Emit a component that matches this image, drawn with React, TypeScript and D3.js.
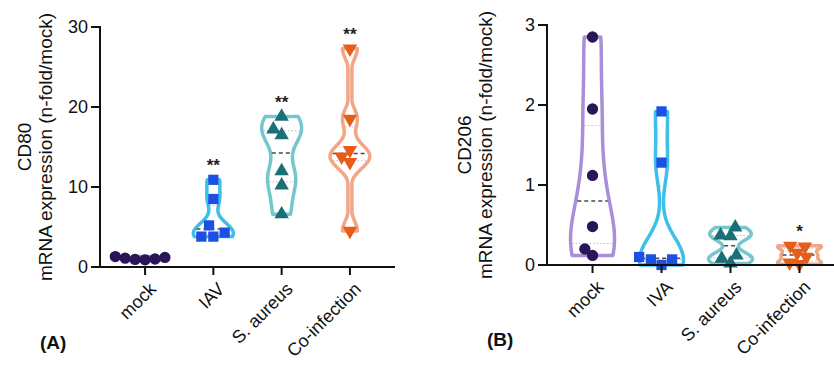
import React from "react";
import * as d3 from "d3";

// categories and readings (n-fold / mock)
const categoriesA = ["mock", "IAV", "S. aureus", "Co-infection"];
const categoriesB = ["mock", "IVA", "S. aureus", "Co-infection"];

const cd80Mock = [0.9, 1.3, 1.1, 1.0, 1.2, 0.95];
const cd80IAV = [10.9, 8.5, 5.2, 4.3, 3.8, 3.8];
const cd80SAureus = [18.8, 17.2, 16.5, 12.0, 10.2, 6.6];
const cd80CoInfection = [27.3, 18.5, 14.6, 13.8, 13.1, 4.5];

const cd206Mock = [2.85, 1.95, 1.12, 0.48, 0.2, 0.12];
const cd206IVA = [1.92, 1.28, 0.1, 0.07, 0.07, 0.0];
const cd206SAureus = [0.47, 0.37, 0.36, 0.12, 0.08, 0.02];
const cd206CoInfection = [0.24, 0.23, 0.15, 0.1, 0.03, 0.01];

const ticksA = [0, 10, 20, 30];
const ticksB = [0, 1, 2, 3];
const starsA = ["", "**", "**", "**"];
const starsB = ["", "", "", "*"];

const strokeColors = ["#a88fd8", "#3dbfea", "#74c7cd", "#f3a585"];
const pointColors = ["#2a1657", "#1c4fe3", "#1a6f78", "#e65d1a"];

const font = "'Liberation Sans', Arial, Helvetica, sans-serif";

function kdeWidths(values: number[], ys: number[]) {
  const n = values.length;
  const sorted = [...values].sort(d3.ascending);
  const sd = d3.deviation(sorted) || 1;
  const iqr = (d3.quantile(sorted, 0.75)! - d3.quantile(sorted, 0.25)!) / 1.34;
  const spread = iqr > 0 ? Math.min(sd, iqr) : sd;
  const bw = 0.9 * spread * Math.pow(n, -0.2) * 0.65;
  return ys.map(y => d3.mean(values, v => Math.exp(-0.5 * ((y - v) / bw) ** 2))!);
}

// spread points sideways so that they do not sit on each other
function swarm(values: number[], y: (v: number) => number, d: number) {
  const placed: { x: number; y: number }[] = [];
  const dx = new Array(values.length).fill(0);
  const order = d3.range(values.length).sort((a, b) => values[a] - values[b]);
  for (const i of order) {
    const yi = y(values[i]);
    const cands = [0];
    for (const p of placed) {
      const dy = Math.abs(p.y - yi);
      if (dy < d) {
        const s = Math.sqrt(d * d - dy * dy);
        cands.push(p.x - s, p.x + s);
      }
    }
    cands.sort((a, b) => Math.abs(a) - Math.abs(b) || a - b);
    const ok = cands.find(c => placed.every(p => (p.x - c) ** 2 + (p.y - yi) ** 2 >= d * d - 0.01)) ?? 0;
    dx[i] = ok;
    placed.push({ x: ok, y: yi });
  }
  return dx;
}

type PanelProps = {
  series: number[][];
  categories: string[];
  ticks: number[];
  stars: string[];
  axisX: number;
  axisEnd: number;
  y0: number;
  y1: number;
  title: string;
  titleX: number;
  tag: string;
  tagX: number;
  tagY: number;
  halfWidth: number;
};

function Panel(p: PanelProps) {
  const y = d3.scaleLinear().domain([p.ticks[0], p.ticks[p.ticks.length - 1]]).range([p.y0, p.y1]);
  const x = d3.scalePoint<string>().domain(p.categories).range([p.axisX, p.axisEnd]).padding(0.66);
  const symbols = [d3.symbolCircle, d3.symbolSquare, d3.symbolTriangle, d3.symbolTriangle];
  const sizes = [100, 105, 90, 90];

  return (
    <g fontFamily={font}>
      {p.series.map((vals, i) => {
        const cx = x(p.categories[i])!;
        const lo = d3.min(vals)!;
        const hi = d3.max(vals)!;
        const ys = d3.range(61).map(k => lo + ((hi - lo) * k) / 60);
        const dens = kdeWidths(vals, ys);
        const maxD = d3.max(dens)!;
        const w = d3.scaleLinear().domain([0, maxD]).range([0, p.halfWidth]);
        const pts = ys.map((v, k) => ({ v, w: Math.max(w(dens[k]), 2) }));
        const area = d3.area<{ v: number; w: number }>()
          .y(d => y(d.v))
          .x0(d => cx - d.w)
          .x1(d => cx + d.w)
          .curve(d3.curveBasis);
        const widthAt = (v: number) => {
          const k = Math.round(((v - lo) / (hi - lo || 1)) * 60);
          return pts[Math.max(0, Math.min(60, k))].w - 1.5;
        };
        const sorted = [...vals].sort(d3.ascending);
        const med = d3.quantile(sorted, 0.5)!;
        const q1 = d3.quantile(sorted, 0.25)!;
        const q3 = d3.quantile(sorted, 0.75)!;
        const offs = swarm(vals, y, i === 1 ? 12 : 10);
        const sym = d3.symbol(symbols[i], sizes[i]);
        return (
          <g key={i}>
            <path d={area(pts)!} fill="white" stroke={strokeColors[i]} strokeWidth={3.5} strokeLinejoin="round" />
            {[q1, q3].map((q, k) => (
              <line key={k} x1={cx - widthAt(q)} x2={cx + widthAt(q)} y1={y(q)} y2={y(q)}
                stroke="#b9b9c4" strokeWidth={1} strokeDasharray="1.5,2" />
            ))}
            <line x1={cx - widthAt(med)} x2={cx + widthAt(med)} y1={y(med)} y2={y(med)}
              stroke="#4a4a55" strokeWidth={1.5} strokeDasharray="4,3" />
            {vals.map((v, k) => (
              <path key={k} d={sym()!} fill={pointColors[i]}
                transform={`translate(${cx + offs[k]},${y(v)})${i === 3 ? " rotate(180)" : ""}`} />
            ))}
            {p.stars[i] && (
              <text x={cx} y={y(hi) - 9} textAnchor="middle" fontSize={17} fontWeight="bold" fill="#222">
                {p.stars[i]}
              </text>
            )}
          </g>
        );
      })}

      {/* y axis */}
      <line x1={p.axisX} x2={p.axisX} y1={p.y1 - 1} y2={p.y0 + 1} stroke="#111" strokeWidth={2} />
      {p.ticks.map(t => (
        <g key={t} transform={`translate(0,${y(t)})`}>
          <line x1={p.axisX - 9} x2={p.axisX} stroke="#111" strokeWidth={2} />
          <text x={p.axisX - 12} dy="0.36em" textAnchor="end" fontSize={18} fill="#111">{t}</text>
        </g>
      ))}

      {/* x axis */}
      <line x1={p.axisX - 1} x2={p.axisEnd} y1={p.y0} y2={p.y0} stroke="#111" strokeWidth={2} />
      {p.categories.map(c => (
        <g key={c}>
          <line x1={x(c)} x2={x(c)} y1={p.y0} y2={p.y0 + 8} stroke="#111" strokeWidth={2} />
          <text transform={`translate(${x(c)! + 3},${p.y0 + 14}) rotate(-45)`} dy="0.72em"
            textAnchor="end" fontSize={18} fill="#111">{c}</text>
        </g>
      ))}

      {/* y title */}
      <text transform={`translate(${p.titleX},${(p.y0 + p.y1) / 2}) rotate(-90)`} textAnchor="middle"
        fontSize={19} fill="#111">
        <tspan x={0} dy={-21}>{p.title}</tspan>
        <tspan x={0} dy={21}>mRNA expression (n-fold/mock)</tspan>
      </text>

      <text x={p.tagX} y={p.tagY} fontSize={19} fontWeight="bold" fill="#111">{p.tag}</text>
    </g>
  );
}

export default function App() {
  return (
    <div style={{ position: "absolute", left: 0, top: 0 }}>
      <svg width={834} height={365} style={{ display: "block", background: "white" }}>
        <Panel
          series={[cd80Mock, cd80IAV, cd80SAureus, cd80CoInfection]}
          categories={categoriesA}
          ticks={ticksA}
          stars={starsA}
          axisX={100}
          axisEnd={395}
          y0={267}
          y1={27}
          title="CD80"
          titleX={52}
          tag="(A)"
          tagX={40}
          tagY={349}
          halfWidth={20}
        />
        <Panel
          series={[cd206Mock, cd206IVA, cd206SAureus, cd206CoInfection]}
          categories={categoriesB}
          ticks={ticksB}
          stars={starsB}
          axisX={547}
          axisEnd={845}
          y0={265}
          y1={25}
          title="CD206"
          titleX={492}
          tag="(B)"
          tagX={487}
          tagY={346}
          halfWidth={22}
        />
      </svg>
    </div>
  );
}
